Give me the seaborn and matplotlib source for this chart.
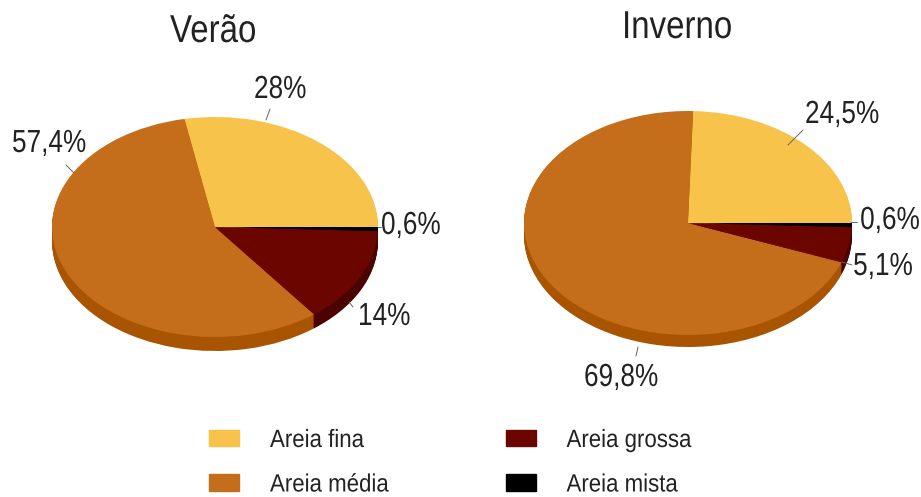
import matplotlib
matplotlib.use("Agg")
import matplotlib.pyplot as plt
from matplotlib.patches import Patch
from matplotlib.patheffects import AbstractPathEffect
from matplotlib.transforms import Affine2D
import seaborn as sns

categories = ["Areia fina", "Areia média", "Areia grossa", "Areia mista"]
verao = [28, 57.4, 14, 0.6]
inverno = [24.5, 69.8, 5.1, 0.6]
verao_labels = ["28%", "57,4%", "14%", "0,6%"]
inverno_labels = ["24,5%", "69,8%", "5,1%", "0,6%"]
colors = ["#f8c34a", "#c46d1a", "#6b0500", "#000000"]
side_colors = ["#f8c34a", "#a85400", "#4a0300", "#4a0300"]
text_color = "#222222"

W, H = 921, 497
sns.set_theme(style="white")
plt.rcParams["font.family"] = ["Liberation Sans", "DejaVu Sans"]

fig = plt.figure(figsize=(W / 100, H / 100), dpi=100)


class Narrow(AbstractPathEffect):
    # squeeze glyphs sideways, there is no narrow font installed
    def __init__(self, sx, dx=0):
        super().__init__()
        self.sx = sx
        self.dx = dx

    def draw_path(self, renderer, gc, tpath, affine, rgbFace=None):
        tr = Affine2D().scale(self.sx, 1) + affine + Affine2D().translate(self.dx, 0)
        renderer.draw_path(gc, tpath, tr, rgbFace)


def draw_pie(values, cx, cy, rx, ry, depth):
    # one axes per pie, stretched so the circle becomes an ellipse
    ax = fig.add_axes([(cx - rx) / W, 1 - (cy + ry + depth) / H, 2 * rx / W, (2 * ry + depth) / H])
    for d in range(depth, 0, -1):
        ax.pie(values, colors=side_colors, startangle=0, center=(0, -d / ry), wedgeprops={"linewidth": 0})
    ax.pie(values, colors=colors, startangle=0, center=(0, 0), wedgeprops={"linewidth": 0})
    ax.set_aspect("auto")
    ax.set_xlim(-1, 1)
    ax.set_ylim(-1 - depth / ry, 1)
    ax.axis("off")
    return ax


draw_pie(verao, 215, 227, 163, 110, 14)
draw_pie(inverno, 688, 223, 164, 112, 12)

overlay = fig.add_axes([0, 0, 1, 1])
overlay.set_xlim(0, W)
overlay.set_ylim(H, 0)
overlay.axis("off")

overlay.text(170, 32, "Verão", fontsize=28, va="center", color=text_color, path_effects=[Narrow(0.85)])
overlay.text(622, 28, "Inverno", fontsize=28, va="center", color=text_color, path_effects=[Narrow(0.85)])

label_xy = [
    (verao_labels[0], 254, 90), (verao_labels[1], 12, 144), (verao_labels[2], 358, 317), (verao_labels[3], 381, 226),
    (inverno_labels[0], 805, 115), (inverno_labels[1], 584, 378),
]
for txt, x, y in label_xy:
    overlay.text(x, y, txt, fontsize=23, va="center", color=text_color, path_effects=[Narrow(0.82)])

# these two sit against the right edge, anchor on the right and nudge the glyphs back
overlay.text(917, 267, inverno_labels[2], fontsize=23, ha="right", va="center", color=text_color,
             path_effects=[Narrow(0.82, 9)])
overlay.text(917, 221, inverno_labels[3], fontsize=23, ha="right", va="center", color=text_color,
             path_effects=[Narrow(0.82, 16)])

leaders = [
    ((266, 120), (270, 109)), ((66, 165), (74, 173)), ((349, 302), (353, 307)), ((378, 227), (381, 227)),
    ((788, 145), (803, 130)), ((638, 347), (636, 356)), ((842, 262), (852, 265)), ((851, 222), (857, 222)),
]
for a, b in leaders:
    overlay.plot([a[0], b[0]], [a[1], b[1]], color="#666666", lw=0.7)

handles = [Patch(color=c) for c in colors]
leg = overlay.legend(handles, categories, ncol=2, loc="upper left", bbox_to_anchor=(209 / W, 1 - 428 / H),
                     bbox_transform=fig.transFigure, frameon=False, fontsize=18, labelcolor=text_color,
                     borderpad=0, borderaxespad=0, handlelength=1.2, handleheight=0.64, handletextpad=1.24,
                     columnspacing=4.1, labelspacing=0.82)
for t in leg.get_texts():
    t.set_path_effects([Narrow(0.89)])

fig.savefig("out.png", dpi=100)
